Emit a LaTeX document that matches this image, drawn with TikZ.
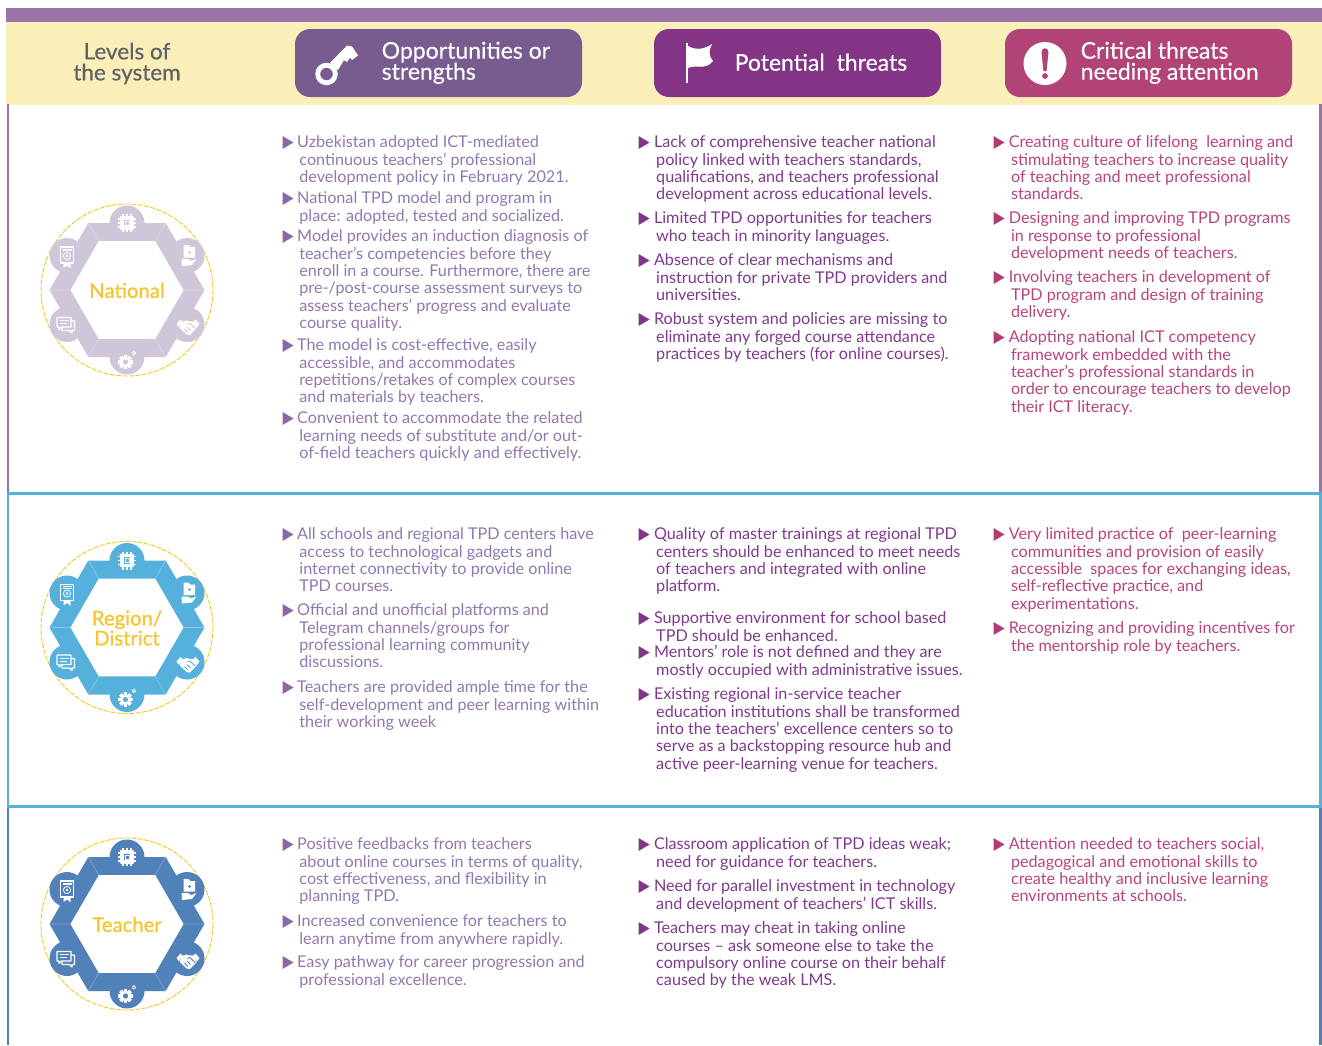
\documentclass[tikz,border=0pt]{standalone}
\usepackage{fontspec}
\setmainfont{Lato}
\newfontfamily\medf[FakeBold=0.4]{Lato}
\newfontfamily\labf[FakeBold=0.7]{Lato}
\definecolor{barc}{HTML}{9C73A8}
\definecolor{headc}{HTML}{FBEFB9}
\definecolor{pillA}{HTML}{785C90}
\definecolor{pillB}{HTML}{833484}
\definecolor{pillC}{HTML}{B14377}
\definecolor{txtA}{HTML}{9079B0}
\definecolor{txtB}{HTML}{7F3A8C}
\definecolor{txtC}{HTML}{B8447F}
\definecolor{bulA}{HTML}{8A6AA6}
\definecolor{bulB}{HTML}{80358A}
\definecolor{bulC}{HTML}{B03C78}
\definecolor{hexN}{HTML}{CFC6DA}
\definecolor{hexR}{HTML}{56B0DC}
\definecolor{hexT}{HTML}{5081B8}
\definecolor{yel}{HTML}{F6C52E}
\definecolor{levc}{HTML}{5F6166}
\newcounter{tn}
\tikzset{
  bt/.style={anchor=north west,inner sep=0pt,align=left,font=\fontsize{16.2}{17.35}\selectfont},
  headtxt/.style={inner sep=0pt,align=left,font=\medf\fontsize{23}{21}\selectfont,text=white},
  pill/.style={rounded corners=15pt},
  hexlabel/.style={inner sep=0pt,align=center,font=\labf\fontsize{20.3}{20}\selectfont,text=yel},
  ico/.style={draw=white,line width=1pt,line join=round,fill=none}
}
\newcommand{\bitem}[6]{% colour-text, colour-bullet, bullet x, text x, centre y, lines
  \stepcounter{tn}
  \fill[#2] (#3-.5,#5-6) -- (#3+10.5,#5+.5) -- (#3-.5,#5+7) -- cycle;
  \node[bt,text=#1] (t\arabic{tn}) at (#4+2.2,#5+5.5-13) {\hspace*{-2.2pt}\rule{0pt}{13pt}#6};
}
\newcommand{\colA}[2]{\bitem{txtA}{bulA}{283}{297}{#1}{#2}}
\newcommand{\colB}[2]{\bitem{txtB}{bulB}{639}{653.8}{#1}{#2}}
\newcommand{\colC}[2]{\bitem{txtC}{bulC}{994}{1008.6}{#1}{#2}}
\newcommand{\icons}{%
  % chip
  \begin{scope}[shift={(0,-67)}]
    \draw[ico,line width=1.2pt,fill=white] (-6,-6) rectangle (6,6);
    \fill[hexc] (-3.4,-3.4) rectangle (3.4,3.4);
    \draw[ico] (-2,-2) rectangle (2,2);
    \foreach \p in {-4,0,4}{
      \draw[ico,line width=1.1pt] (\p,-9) -- (\p,-6);
      \draw[ico,line width=1.1pt] (\p,6) -- (\p,9);
      \draw[ico,line width=1.1pt] (-9,\p) -- (-6,\p);
      \draw[ico,line width=1.1pt] (6,\p) -- (9,\p);
    }
  \end{scope}
  % folder and hand
  \begin{scope}[shift={(62,-34.5)}]
    \fill[white] (-5.5,-10.5) -- (-0.5,-10.5) -- (1.5,-8.5) -- (6,-8.5) -- (6,2) -- (-5.5,2) -- cycle;
    \fill[hexc] (-1.5,-3.6) rectangle (1.5,-2.6);
    \fill[hexc] (-.5,-4.6) rectangle (.5,-1.6);
    \fill[white] (-7.5,3.5) -- (-1,3.5) -- (2,5.5) -- (7.5,3.5) -- (3,9.5) -- (-7,10.5) -- cycle;
  \end{scope}
  % handshake
  \begin{scope}[shift={(61,36)}]
    \draw[ico,line width=1.1pt,fill=white] (-6.5,-3.5) -- (-1,-5) -- (1,-4) -- (6.5,-4) -- (8,2) -- (1.5,8.5) -- (-1,8) -- (-7.5,2) -- cycle;
    \draw[hexc,line width=.8pt] (-1,-1.5) -- (2,-2.5) -- (7,2.5) (-3.5,3) -- (0,6.5) (-1,1) -- (2.5,4.5);
    \fill[white] (-11.5,-2) -- (-7.5,-6.5) -- (-5.8,-5) -- (-9,1.5) -- cycle;
    \fill[white] (11.5,-2) -- (7.5,-6.5) -- (5.8,-5) -- (9,1.5) -- cycle;
  \end{scope}
  % gear
  \begin{scope}[shift={(-1.5,72)}]
    \foreach \a in {0,45,...,315}{
      \fill[white,rotate=\a] (-1.9,-7.2) rectangle (1.9,-3.5);
    }
    \fill[white] (0,0) circle (5.3);
    \fill[hexc] (0,0) circle (2.6);
    \draw[ico,line width=.8pt] (8.4,-8.7) circle (1.8);
  \end{scope}
  % chat
  \begin{scope}[shift={(-61,34)}]
    \draw[ico,line width=1.1pt] (-4,1) -- (-4,6.5) -- (3.5,6.5) -- (6,9) -- (6,6.5) -- (8.5,6.5) -- (8.5,-3) -- (5,-3);
    \draw[ico,line width=1.1pt,fill=hexc] (-9,-6.5) -- (5,-6.5) -- (5,3) -- (-4.5,3) -- (-7,5.5) -- (-7,3) -- (-9,3) -- cycle;
    \draw[white,line width=1pt] (-6.5,-3.5) -- (2.5,-3.5) (-6.5,-.5) -- (1,-.5);
  \end{scope}
  % certificate
  \begin{scope}[shift={(-60,-33)}]
    \draw[ico,line width=1.1pt] (-6.5,-10) rectangle (6.5,6);
    \draw[ico,line width=.7pt] (-4.5,-8) -- (4.5,-8) (-4.5,-6.5) -- (4.5,-6.5);
    \draw[ico,line width=.8pt] (0,-1) circle (3.6);
    \fill[white] (0,-1) circle (1.4);
    \fill[white] (-3.5,6) -- (3.5,6) -- (3.5,11) -- (0,8.5) -- (-3.5,11) -- cycle;
  \end{scope}
}
\newcommand{\hexring}[4]{%
  \colorlet{hexc}{#3}
  \begin{scope}[shift={(#1,#2)}]
    \draw[yel,line width=.9pt,dash pattern=on 5pt off 1.4pt] (0,0) circle (86);
    \fill[#3] (-77.5,0) -- (-38.7,-67) -- (38.7,-67) -- (77.5,0) -- (38.7,67) -- (-38.7,67) -- cycle;
    \foreach \p/\q in {0/-67,60/-34.5,60/34.5,0/67,-60/34.5,-60/-34.5}{
      \fill[#3] (\p,\q) circle (17.5);
    }
    \fill[white] (-56.5,0) -- (-28.2,-48.9) -- (28.2,-48.9) -- (56.5,0) -- (28.2,48.9) -- (-28.2,48.9) -- cycle;
    \draw[white,opacity=.3,line width=.6pt] (-56.5,0) -- (-77.5,0) (56.5,0) -- (77.5,0)
      (-28.2,-48.9) -- (-38.7,-67) (28.2,-48.9) -- (38.7,-67) (-28.2,48.9) -- (-38.7,67) (28.2,48.9) -- (38.7,67);
    \icons
    \node[hexlabel] (#4lab) at (0,0.5) {\ifx#4N National\else\ifx#4R Region/\\District\else Teacher\fi\fi};
  \end{scope}
}
\begin{document}
\begin{tikzpicture}[x=1pt,y=-1pt]
\useasboundingbox (0,0) rectangle (1322,1045);
\fill[white] (0,0) rectangle (1322,1045);
% top bands
\fill[barc] (6,8) rectangle (1322,22);
\fill[headc] (6,22) rectangle (1322,104.5);
% frame
\draw[barc,line width=2.6pt] (8,104) -- (8,492);
\draw[barc,line width=2.6pt] (1320.5,104) -- (1320.5,492);
\draw[hexR,line width=2.6pt] (8,492) -- (8,806);
\draw[hexR,line width=2.6pt] (1320.5,492) -- (1320.5,806);
\draw[hexT,line width=2.6pt] (8,806) -- (8,1045);
\draw[hexT,line width=2.6pt] (1320.5,806) -- (1320.5,1045);
\draw[hexR,line width=3pt] (7,493) -- (1322,493);
\draw[hexR,line width=3pt] (7,806) -- (1322,806);
% header cells
\node[inner sep=0pt,align=center,font=\medf\fontsize{22.5}{21}\selectfont,text=levc] (lev) at (127,63.5) {Levels of\\the system};
\fill[pillA,pill] (295,29) rectangle (582,97);
\fill[pillB,pill] (654,29) rectangle (941,97);
\fill[pillC,pill] (1005,29) rectangle (1292,97);
\node[headtxt,anchor=west] (hA) at (381.5,62.8) {Opportunities or\\strengths};
\node[headtxt,anchor=west] (hB) at (734.5,62.3) {Potential\ \ threats};
\node[headtxt,anchor=west] (hC) at (1080.5,62.8) {Critical threats\\needing attention};
% key
\draw[white,line width=4.8pt] (326.5,74) circle (8.8);
\fill[white] (330,63) -- (347,45.5) -- (352,46.5) -- (358,55.5) -- (352,60) -- (350,57.5) -- (347,62) -- (344,60) -- (338,70) -- cycle;
% flag
\fill[white] (685.5,43) rectangle (688,83);
\fill[white] (688,46) .. controls (695,50) and (703,50) .. (712,44) .. controls (709,50) and (708,55) .. (713,61) .. controls (705,71) and (696,64) .. (688,68) -- cycle;
% exclamation
\fill[white] (1045,63.5) circle (21.5);
\fill[pillC] (1041.5,52) .. controls (1041.5,47) and (1048.5,47) .. (1048.5,52) -- (1046.6,71) -- (1043.4,71) -- cycle;
\fill[pillC] (1045,76) circle (2.9);
% rings
\hexring{127}{290}{hexN}{N}
\hexring{127}{627.5}{hexR}{R}
\hexring{127}{924}{hexT}{T}
% National
\colA{142}{Uzbekistan adopted ICT-mediated\\continuous teachers’ professional\\development policy in February 2021.}
\colA{198}{National TPD model and program in\\place: adopted, tested and socialized.}
\colA{236}{Model provides an induction diagnosis of\\teacher’s competencies before they\\enroll in a course. Furthermore, there are\\pre-/post-course assessment surveys to\\assess teachers’ progress and evaluate\\course quality.}
\colA{345}{The model is cost-effective, easily\\accessible, and accommodates\\repetitions/retakes of complex courses\\and materials by teachers.}
\colA{418}{Convenient to accommodate the related\\learning needs of substitute and/or out-\\of-field teachers quickly and effectively.}
\colB{142}{Lack of comprehensive teacher national\\policy linked with teachers standards,\\qualifications, and teachers professional\\development across educational levels.}
\colB{218}{Limited TPD opportunities for teachers\\who teach in minority languages.}
\colB{260}{Absence of clear mechanisms and\\instruction for private TPD providers and\\universities.}
\colB{319}{Robust system and policies are missing to\\eliminate any forged course attendance\\practices by teachers (for online courses).}
\colC{142}{Creating culture of lifelong\ \ learning and\\stimulating teachers to increase quality\\of teaching and meet professional\\standards.}
\colC{218}{Designing and improving TPD programs\\in response to professional\\development needs of teachers.}
\colC{277}{Involving teachers in development of\\TPD program and design of training\\delivery.}
\colC{337}{Adopting national ICT competency\\framework embedded with the\\teacher’s professional standards in\\order to encourage teachers to develop\\their ICT literacy.}
% Region
\colA{534}{All schools and regional TPD centers have\\access to technological gadgets and\\internet connectivity to provide online\\TPD courses.}
\colA{610}{Official and unofficial platforms and\\Telegram channels/groups for\\professional learning community\\discussions.}
\colA{687}{Teachers are provided ample time for the\\self-development and peer learning within\\their working week}
\colB{534}{Quality of master trainings at regional TPD\\centers should be enhanced to meet needs\\of teachers and integrated with online\\platform.}
\colB{618}{Supportive environment for school based\\TPD should be enhanced.}
\colB{652}{Mentors’ role is not defined and they are\\mostly occupied with administrative issues.}
\colB{694}{Existing regional in-service teacher\\education institutions shall be transformed\\into the teachers’ excellence centers so to\\serve as a backstopping resource hub and\\active peer-learning venue for teachers.}
\colC{534}{Very limited practice of\ \ peer-learning\\communities and provision of easily\\accessible\ \ spaces for exchanging ideas,\\self-reflective practice, and\\experimentations.}
\colC{628}{Recognizing and providing incentives for\\the mentorship role by teachers.}
% Teacher
\colA{844}{Positive feedbacks from teachers\\about online courses in terms of quality,\\cost effectiveness, and flexibility in\\planning TPD.}
\colA{921}{Increased convenience for teachers to\\learn anytime from anywhere rapidly.}
\colA{962}{Easy pathway for career progression and\\professional excellence.}
\colB{844}{Classroom application of TPD ideas weak;\\need for guidance for teachers.}
\colB{886}{Need for parallel investment in technology\\and development of teachers’ ICT skills.}
\colB{928}{Teachers may cheat in taking online\\courses – ask someone else to take the\\compulsory online course on their behalf\\caused by the weak LMS.}
\colC{844}{Attention needed to teachers social,\\pedagogical and emotional skills to\\create healthy and inclusive learning\\environments at schools.}
\end{tikzpicture}
\end{document}
